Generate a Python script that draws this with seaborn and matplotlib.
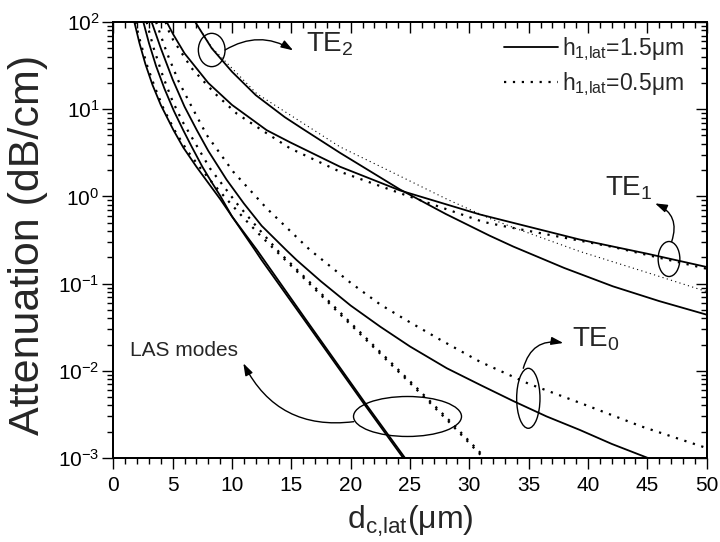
import matplotlib
matplotlib.use("Agg")
import matplotlib.pyplot as plt
import seaborn as sns
import pandas as pd
from matplotlib.patches import Ellipse
from matplotlib.lines import Line2D
from matplotlib.ticker import MultipleLocator, LogLocator, NullFormatter

# attenuation (dB/cm) vs lateral cladding width d_c,lat (um)
# h1,lat = 1.5 um (solid)
las_a_d = [1.77, 2.2, 2.7, 3.3, 4.0, 5.06, 5.9, 7.0, 7.87, 9.0, 11.93, 12.5, 16.0, 21.06, 24.43]
las_a_att = [100, 57.4, 33.0, 19.0, 11.17, 5.78, 3.63, 2.19, 1.51, 0.933, 0.243, 0.186, 0.040, 0.0043, 0.001]
las_b_d = [2.53, 3.0, 3.6, 4.3, 5.1, 5.9, 6.6, 7.5, 8.3, 9.0, 10.0, 12.1, 16.15, 21.2, 24.58]
las_b_att = [100, 57.5, 31.3, 17.3, 9.57, 5.71, 3.72, 2.19, 1.445, 1.02, 0.589, 0.243, 0.040, 0.0043, 0.001]
te0_d = [3.23, 4.0, 5.0, 6.0, 7.03, 8.0, 9.55, 11.0, 12.5, 14.6, 15.45, 17.5, 20.0, 22.5,
         25.0, 28.1, 31.0, 33.7, 36.5, 39.3, 42.0, 45.05]
te0_att = [100, 50, 21.9, 10.7, 5.77, 3.33, 1.55, 0.83, 0.46, 0.24, 0.186, 0.106, 0.056, 0.032,
           0.019, 0.0107, 0.0068, 0.0045, 0.0030, 0.0021, 0.00145, 0.001]
te1_d = [4.5, 5.05, 6.0, 8.0, 10.0, 12.92, 14.9, 19.1, 24.16, 30.9, 39.3, 45.0, 50.0]
te1_att = [100, 72, 43.7, 20, 11.2, 5.75, 4.17, 2.19, 1.17, 0.62, 0.32, 0.22, 0.155]
te2_d = [6.9, 8.29, 10.0, 12.0, 14.45, 16.0, 19.1, 24.16, 28.0, 31.7, 33.7, 38.0, 42.1, 46.0, 50.0]
te2_att = [100, 50, 26.9, 14.5, 8.1, 5.9, 3.16, 1.2, 0.63, 0.355, 0.266, 0.151, 0.093, 0.063, 0.044]

# h1,lat = 0.5 um (dotted)
las_c_d = [1.85, 2.3, 2.85, 3.5, 4.25, 5.2, 6.2, 7.3, 8.5, 9.8, 11.0, 12.4, 14.04, 16.0, 19.4,
           22.47, 25.3, 28.1, 31.2]
las_c_att = [100, 57.5, 31.6, 17.8, 10.0, 5.62, 3.39, 2.14, 1.35, 0.851, 0.562, 0.355, 0.214,
             0.1175, 0.0407, 0.0158, 0.0066, 0.00275, 0.001]
las_d_d = [2.8, 3.4, 4.2, 5.0, 5.8, 6.74, 8.15, 10.4, 12.2, 14.04, 16.15, 19.55, 22.62, 25.45,
           28.25, 31.35]
las_d_att = [100, 50.1, 23.4, 12.3, 7.33, 4.44, 2.09, 0.832, 0.431, 0.224, 0.1175, 0.0407, 0.0158,
             0.0066, 0.00275, 0.001]
te0b_d = [3.6, 4.5, 5.5, 6.6, 7.87, 10.1, 12.92, 16.57, 17.27, 20.0, 22.5, 24.7, 27.5, 30.9, 35.0,
          39.3, 44.5, 50.0]
te0b_att = [100, 44.7, 20.9, 10.7, 5.06, 1.92, 0.73, 0.243, 0.204, 0.102, 0.0575, 0.038, 0.0229,
            0.0127, 0.0071, 0.0043, 0.0023, 0.0013]
te1b_d = [4.4, 4.63, 5.05, 6.6, 8.57, 10.4, 12.92, 14.89, 19.1, 24.15, 31.17, 33.1, 42.1, 50.0]
te1b_att = [100, 81, 62, 29.5, 15.1, 8.9, 5.3, 3.56, 1.92, 1.09, 0.51, 0.45, 0.263, 0.148]
te2b_d = [6.9, 8.3, 12.08, 14.89, 19.1, 23.3, 28.1, 31.7, 33.7, 39.3, 44.9, 50.0]
te2b_att = [100, 51, 15.1, 8.6, 3.7, 1.95, 0.93, 0.56, 0.44, 0.234, 0.135, 0.081]

curves = [
    ("LAS a", las_a_d, las_a_att, "solid"),
    ("LAS b", las_b_d, las_b_att, "solid"),
    ("TE0", te0_d, te0_att, "solid"),
    ("TE1", te1_d, te1_att, "solid"),
    ("TE2", te2_d, te2_att, "solid"),
    ("LAS c", las_c_d, las_c_att, "dotted"),
    ("LAS d", las_d_d, las_d_att, "dotted"),
    ("TE0 b", te0b_d, te0b_att, "dotted"),
    ("TE1 b", te1b_d, te1b_att, "dotted"),
    ("TE2 b", te2b_d, te2b_att, "fine"),
]

rows = []
for name, d, att, kind in curves:
    for xv, yv in zip(d, att):
        rows.append({"curve": name, "kind": kind, "d": xv, "att": yv})
df = pd.DataFrame(rows)

sns.set_theme(style="ticks")
plt.rcParams["font.family"] = ["Liberation Sans", "DejaVu Sans"]
plt.rcParams["mathtext.fontset"] = "custom"
plt.rcParams["mathtext.rm"] = "Liberation Sans"
plt.rcParams["mathtext.it"] = "Liberation Sans:italic"
plt.rcParams["mathtext.default"] = "regular"
plt.rcParams["axes.unicode_minus"] = False

fig = plt.figure(figsize=(7.2, 5.42), dpi=100)
ax = fig.add_axes([0.1574, 0.155, 0.8241, 0.8044])

styles = {
    "solid": dict(linestyle="-", lw=1.3),
    "dotted": dict(linestyle=(0, (1, 3)), lw=1.6),
    "fine": dict(linestyle=(0, (1, 3)), lw=0.8),
}
for name, d, att, kind in curves:
    sub = df[df["curve"] == name]
    sns.lineplot(data=sub, x="d", y="att", ax=ax, color="black",
                 sort=False, estimator=None, legend=False, **styles[kind])

ax.set_yscale("log")
ax.set_xlim(0, 50)
ax.set_ylim(1e-3, 1e2)


def set_ticks(a_x, a_y):
    a_x.xaxis.set_major_locator(MultipleLocator(5))
    a_x.xaxis.set_minor_locator(MultipleLocator(1))
    a_y.yaxis.set_major_locator(LogLocator(base=10, numticks=10))
    a_y.yaxis.set_minor_locator(LogLocator(base=10, subs=range(2, 10), numticks=100))
    a_y.yaxis.set_minor_formatter(NullFormatter())


set_ticks(ax, ax)
ax.tick_params(which="both", direction="out", width=1.0, colors="black")
ax.tick_params(which="major", length=8, labelsize=15)
ax.tick_params(axis="x", which="major", pad=5)
ax.tick_params(axis="y", which="major", pad=2)
ax.tick_params(which="minor", length=4.5)

# mirrored ticks on top and right point inwards
ax_top = ax.twiny()
ax_top.set_xlim(ax.get_xlim())
ax_right = ax.twinx()
ax_right.set_yscale("log")
ax_right.set_ylim(ax.get_ylim())
set_ticks(ax_top, ax_right)
ax_top.tick_params(which="both", direction="in", labeltop=False, width=1.0, colors="black")
ax_right.tick_params(which="both", direction="in", labelright=False, width=1.0, colors="black")
for a in (ax_top, ax_right):
    a.tick_params(which="major", length=8)
    a.tick_params(which="minor", length=4.5)
for a in (ax, ax_top, ax_right):
    for s in a.spines.values():
        s.set_linewidth(1.2)
        s.set_color("black")

ax.set_xlabel(r"d$_{\mathrm{c{,}lat}}$(μm)", fontsize=23, va="top")
ax.xaxis.set_label_coords(0.5, -0.105)
ax.set_ylabel("Attenuation (dB/cm)", fontsize=31)
ax.yaxis.set_label_coords(-0.11, 0.489)

handles = [Line2D([], [], color="black", **styles["solid"]),
           Line2D([], [], color="black", **styles["dotted"])]
labels = [r"h$_{\mathrm{1{,}lat}}$=1.5μm", r"h$_{\mathrm{1{,}lat}}$=0.5μm"]
ax_right.legend(handles, labels, loc="upper right", bbox_to_anchor=(0.962, 0.97), frameon=False,
                fontsize=16.5, handlelength=2.35, handletextpad=0.2, labelspacing=0.3,
                borderpad=0, borderaxespad=0)

# ellipses around curve groups (axes-fraction coordinates)
for cx, cy, w, h in [(0.1658, 0.9358, 0.045, 0.0764), (0.9365, 0.4564, 0.0366, 0.0803),
                     (0.6994, 0.1369, 0.0393, 0.1376), (0.4958, 0.0952, 0.182, 0.0917)]:
    ax.add_patch(Ellipse((cx, cy), w, h, transform=ax.transAxes, fill=False, lw=1.0, color="black"))

arrow = dict(arrowstyle="-|>,head_length=0.6,head_width=0.2", color="black", lw=1.0,
             shrinkA=0, shrinkB=0)
ax.annotate("", xy=(0.303, 0.935), xytext=(0.1883, 0.9358), xycoords="axes fraction",
            arrowprops=dict(connectionstyle="arc3,rad=-0.3", **arrow))
ax.annotate("", xy=(0.913, 0.584), xytext=(0.941, 0.4965), xycoords="axes fraction",
            arrowprops=dict(connectionstyle="arc3,rad=0.45", **arrow))
ax.annotate("", xy=(0.7583, 0.2638), xytext=(0.6909, 0.2057), xycoords="axes fraction",
            arrowprops=dict(connectionstyle="arc3,rad=-0.45", **arrow))
ax.annotate("", xy=(0.2191, 0.2172), xytext=(0.4052, 0.0833), xycoords="axes fraction",
            arrowprops=dict(connectionstyle="arc3,rad=-0.35", **arrow))

ax.text(0.3247, 0.932, r"TE$_{2}$", transform=ax.transAxes, fontsize=20, ha="left", va="baseline")
ax.text(0.828, 0.601, r"TE$_{1}$", transform=ax.transAxes, fontsize=20, ha="left", va="baseline")
ax.text(0.7725, 0.2546, r"TE$_{0}$", transform=ax.transAxes, fontsize=20, ha="left", va="baseline")
ax.text(0.028, 0.234, "LAS modes", transform=ax.transAxes, fontsize=15, ha="left", va="baseline")

fig.savefig("out.png", dpi=100)
